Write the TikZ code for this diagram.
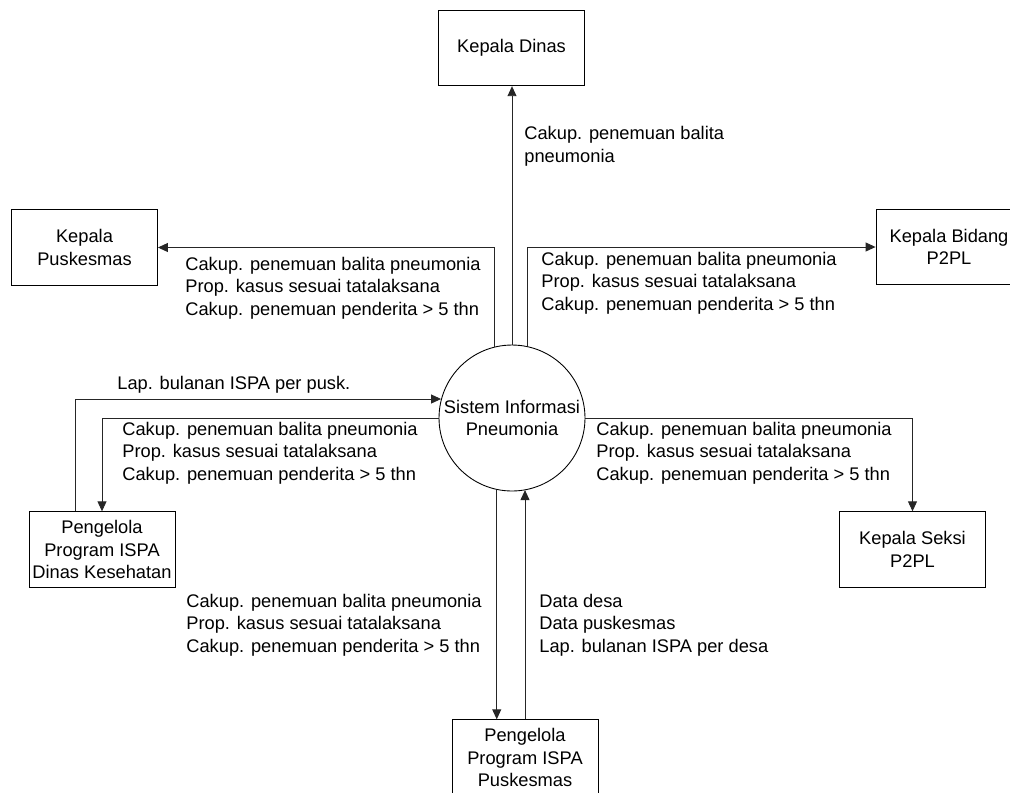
\documentclass[tikz,border=0pt]{standalone}
\usepackage{fontspec}
\setmainfont{Liberation Sans}
\usetikzlibrary{arrows.meta}

\begin{document}
\begin{tikzpicture}[x=0.02cm, y=-0.02cm,
		font=\fontsize{10.4}{12.8}\selectfont,
		entitas/.style={draw, line width=0.5pt, minimum width=2.92cm, minimum height=1.51cm, align=center, inner sep=1pt},
		proses/.style={draw, circle, line width=0.5pt, minimum size=2.92cm, align=center, inner sep=0pt},
		alir/.style={line width=0.5pt, color=black!85, -{Triangle[length=0.2cm, width=0.18cm]}},
		ket/.style={anchor=west, align=left, inner sep=0pt}]
			%%%%% START %%%%%
			
			\useasboundingbox (0, 0) rectangle (1010, 792);
			
			\node[proses] (sip) at (512, 418) {Sistem Informasi\\Pneumonia};
			
			\node[entitas] (kdin) at (511.5, 48) {Kepala Dinas};
			\node[entitas] (kpusk) at (84.5, 247.5) {Kepala\\Puskesmas};
			\node[entitas] (kbid) at (949, 247) {Kepala Bidang\\P2PL};
			\node[entitas] (pdk) at (102, 549.5) {Pengelola\\Program ISPA\\Dinas Kesehatan};
			\node[entitas] (kseksi) at (912.5, 549.5) {Kepala Seksi\\P2PL};
			\node[entitas] (ppusk) at (525, 757.5) {Pengelola\\Program ISPA\\Puskesmas};
			
			\coordinate (tk1) at (75, 400);
			
			\draw[alir] (sip.north) -- (sip.north |- kdin.south);
			\draw[alir] (sip.104) |- (kpusk.east);
			\draw[alir] (sip.78) |- (kbid.west);
			\draw[alir] (pdk.north -| tk1) |- (sip.165);
			\draw[alir] (sip.west) -| (pdk.north);
			\draw[alir] (sip.east) -| (kseksi.north);
			\draw[alir] (sip.258) -- (sip.258 |- ppusk.north);
			\draw[alir] (ppusk.north) -- (ppusk.north |- sip.281);
			
			\node[ket] (l-kdin) at (524, 146.5) {Cakup. penemuan balita\\pneumonia};
			\node[ket] (l-kpusk) at (185, 288) {Cakup. penemuan balita pneumonia\\Prop. kasus sesuai tatalaksana\\Cakup. penemuan penderita > 5 thn};
			\node[ket] (l-kbid) at (541, 283) {Cakup. penemuan balita pneumonia\\Prop. kasus sesuai tatalaksana\\Cakup. penemuan penderita > 5 thn};
			\node[ket] (l-lap) at (117, 385) {Lap. bulanan ISPA per pusk.};
			\node[ket] (l-pdk) at (122, 453) {Cakup. penemuan balita pneumonia\\Prop. kasus sesuai tatalaksana\\Cakup. penemuan penderita > 5 thn};
			\node[ket] (l-kseksi) at (596, 453) {Cakup. penemuan balita pneumonia\\Prop. kasus sesuai tatalaksana\\Cakup. penemuan penderita > 5 thn};
			\node[ket] (l-turun) at (186, 625) {Cakup. penemuan balita pneumonia\\Prop. kasus sesuai tatalaksana\\Cakup. penemuan penderita > 5 thn};
			\node[ket] (l-naik) at (539, 625) {Data desa\\Data puskesmas\\Lap. bulanan ISPA per desa};
			
			%%%%% END %%%%%
		\end{tikzpicture}
\end{document}
